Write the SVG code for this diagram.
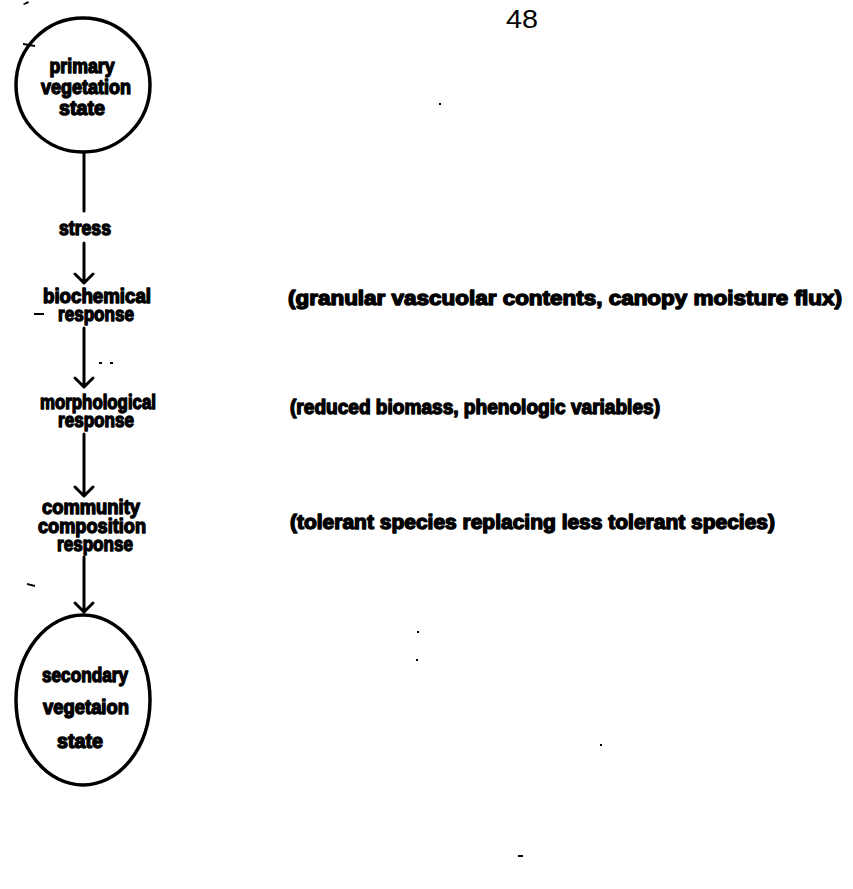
<svg xmlns="http://www.w3.org/2000/svg" width="853" height="889" viewBox="0 0 853 889">
<style>
.t{font-family:"Liberation Sans",Arial,sans-serif;font-weight:bold;font-size:20px;fill:#000;stroke:#000;stroke-width:1.4;stroke-linejoin:round}
.c{text-anchor:middle}
.n{fill:none;stroke:#000;stroke-width:3.5}
.e{stroke:#000;stroke-width:3;fill:none;stroke-linecap:round;stroke-linejoin:round}
.sp{fill:#000}
</style>
<rect width="853" height="889" fill="#fff"/>
<text x="522" y="28" text-anchor="middle" style="font-family:'Liberation Sans',Arial,sans-serif;font-size:26px" textLength="32" lengthAdjust="spacingAndGlyphs">48</text>

<g id="connectors">
<line class="e" x1="84" y1="153" x2="84" y2="211"/>
<path class="e" d="M84,243 L84,283 M75,274 L84,283 L93,274"/>
<path class="e" d="M84,328 L84,387 M75,378 L84,387 L93,378"/>
<path class="e" d="M84,434 L84,496 M75,487 L84,496 L93,487"/>
<path class="e" d="M84,557 L84,612 M75,603 L84,612 L93,603"/>
</g>

<g id="primary">
<ellipse class="n" cx="83" cy="85" rx="67" ry="67"/>
<text class="t c" x="82" y="73" textLength="65" lengthAdjust="spacingAndGlyphs">primary</text>
<text class="t c" x="86" y="94" textLength="90" lengthAdjust="spacingAndGlyphs">vegetation</text>
<text class="t c" x="82" y="115" textLength="46" lengthAdjust="spacingAndGlyphs">state</text>
</g>

<g id="stress">
<text class="t c" x="85" y="235" textLength="52" lengthAdjust="spacingAndGlyphs">stress</text>
</g>

<g id="biochemical">
<text class="t c" x="97" y="303" textLength="108" lengthAdjust="spacingAndGlyphs">biochemical</text>
<text class="t c" x="96" y="321" textLength="76" lengthAdjust="spacingAndGlyphs">response</text>
<text class="t" x="288" y="305" textLength="554" lengthAdjust="spacingAndGlyphs">(granular vascuolar contents, canopy moisture flux)</text>
</g>

<g id="morphological">
<text class="t c" x="98" y="409" textLength="116" lengthAdjust="spacingAndGlyphs">morphological</text>
<text class="t c" x="96" y="427" textLength="76" lengthAdjust="spacingAndGlyphs">response</text>
<text class="t" x="290" y="414" textLength="370" lengthAdjust="spacingAndGlyphs">(reduced biomass, phenologic variables)</text>
</g>

<g id="community">
<text class="t c" x="91" y="514" textLength="98" lengthAdjust="spacingAndGlyphs">community</text>
<text class="t c" x="92" y="533" textLength="108" lengthAdjust="spacingAndGlyphs">composition</text>
<text class="t c" x="95" y="551" textLength="76" lengthAdjust="spacingAndGlyphs">response</text>
<text class="t" x="290" y="529" textLength="485" lengthAdjust="spacingAndGlyphs">(tolerant species replacing less tolerant species)</text>
</g>

<g id="secondary">
<ellipse class="n" cx="83" cy="700" rx="67" ry="85"/>
<text class="t c" x="85" y="682" textLength="86" lengthAdjust="spacingAndGlyphs">secondary</text>
<text class="t c" x="86" y="714" textLength="86" lengthAdjust="spacingAndGlyphs">vegetaion</text>
<text class="t c" x="80" y="748" textLength="46" lengthAdjust="spacingAndGlyphs">state</text>
</g>

<g id="specks">
<path class="sp" d="M23,4 L28,1 L29,3 L24,5 Z"/>
<path class="sp" d="M23,43 L35,45 L35,47 L23,45 Z"/>
<rect class="sp" x="34" y="313" width="10" height="2"/>
<path class="sp" d="M27,583 L35,585 L35,587 L27,585 Z"/>
<rect class="sp" x="99" y="362" width="3" height="2"/>
<rect class="sp" x="110" y="362" width="3" height="2"/>
<rect class="sp" x="439" y="103" width="2" height="2"/>
<rect class="sp" x="417" y="631" width="2" height="2"/>
<rect class="sp" x="416" y="659" width="2" height="2"/>
<rect class="sp" x="600" y="744" width="2" height="2"/>
<rect class="sp" x="518" y="855" width="5" height="2"/>
</g>
</svg>
